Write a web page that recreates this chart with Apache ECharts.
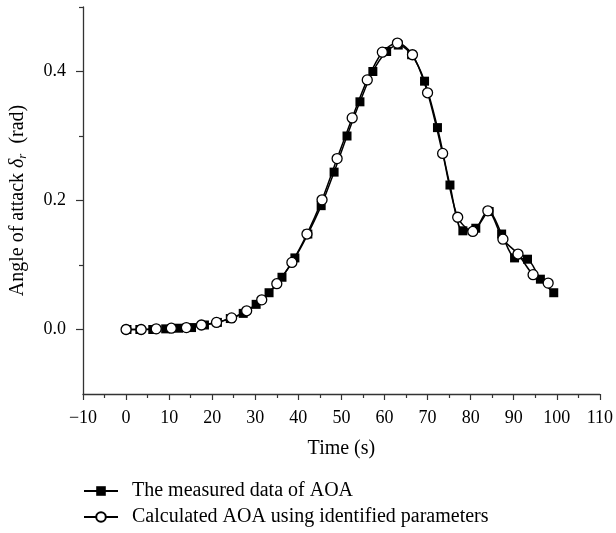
<!DOCTYPE html>
<html style="height: 100%">
<head>
    <meta charset="utf-8">
    <title>Angle of attack</title>
    <script type="text/javascript" src="https://cdn.jsdelivr.net/npm/echarts@6/dist/echarts.min.js"></script>
</head>
<body style="height: 100%; margin: 0; background: #fff">
    <div id="container" style="width: 616px; height: 533px"></div>
    <script type="text/javascript">
        // measured AOA (black squares)
        var measT = [0.2, 3.2, 6.2, 9.2, 12.2, 15.2, 18.2, 21.2, 24.2, 27.2, 30.2, 33.2, 36.2, 39.2, 42.2, 45.3, 48.3,
            51.3, 54.3, 57.3, 60.5, 63.2, 66.3, 69.3, 72.3, 75.2, 78.2, 81.2, 84.3, 87.2, 90.2, 93.2, 96.2, 99.3];
        var measV = [0.000, 0.000, 0.000, 0.001, 0.002, 0.003, 0.007, 0.011, 0.017, 0.025, 0.039, 0.057, 0.081, 0.111, 0.148, 0.192, 0.244,
            0.300, 0.353, 0.400, 0.431, 0.441, 0.426, 0.385, 0.313, 0.224, 0.153, 0.157, 0.183, 0.148, 0.111, 0.109, 0.078, 0.057];
        // calculated AOA (open circles)
        var calcT = [0, 3.5, 7, 10.5, 14, 17.5, 21, 24.5, 28, 31.5, 35, 38.5, 42, 45.5, 49, 52.5, 56, 59.5, 63, 66.5,
            70, 73.5, 77, 80.5, 84, 87.5, 91, 94.5, 98];
        var calcV = [0.000, 0.000, 0.001, 0.002, 0.003, 0.007, 0.011, 0.018, 0.029, 0.046, 0.071, 0.104, 0.148, 0.201, 0.265, 0.328,
            0.387, 0.430, 0.444, 0.426, 0.367, 0.273, 0.174, 0.152, 0.184, 0.140, 0.117, 0.085, 0.072];
        var yLabels = [0, 0.2, 0.4];
        var yMinor = [0.1, 0.3, 0.5];

        function pairs(t, v) {
            var out = [];
            for (var i = 0; i < t.length; i++) out.push([t[i], v[i]]);
            return out;
        }

        var font = 'Liberation Serif';
        var myChart = echarts.init(document.getElementById('container'));
        var option = {
            animation: false,
            textStyle: { fontFamily: font, color: '#000' },
            grid: { left: 81, right: 14, top: 7, bottom: 139 },
            legend: {
                orient: 'vertical',
                left: 83,
                top: 481,
                padding: 0,
                itemWidth: 34,
                itemHeight: 12,
                itemGap: 6,
                textStyle: { fontFamily: font, fontSize: 20, lineHeight: 20, color: '#000', padding: [0, 0, 0, 9] },
                data: ['The measured data of AOA', 'Calculated AOA using identified parameters']
            },
            xAxis: {
                type: 'value',
                min: -10,
                max: 110,
                interval: 10,
                name: 'Time (s)',
                nameLocation: 'middle',
                nameGap: 45,
                nameTextStyle: { fontFamily: font, fontSize: 20, color: '#000' },
                axisLine: { onZero: false, lineStyle: { color: '#333', width: 1.3 } },
                axisTick: { length: 6, lineStyle: { color: '#333', width: 1.2 } },
                minorTick: { show: true, splitNumber: 2, length: 4, lineStyle: { color: '#333', width: 1.2 } },
                splitLine: { show: false },
                axisLabel: {
                    margin: 15,
                    fontFamily: font,
                    fontSize: 18,
                    color: '#000',
                    formatter: function (v) { return v < 0 ? '\u2212' + (-v) : String(v); }
                }
            },
            yAxis: [{
                type: 'value',
                min: -0.1,
                max: 0.5,
                interval: 0.1,
                name: '{n|Angle of attack }{i|δ}{s|r}{n|  (rad)}',
                nameLocation: 'middle',
                nameGap: 54,
                nameTextStyle: {
                    rich: {
                        n: { fontFamily: font, fontSize: 20, color: '#000' },
                        i: { fontFamily: font, fontSize: 20, fontStyle: 'italic', color: '#000' },
                        s: { fontFamily: font, fontSize: 13, fontStyle: 'italic', color: '#000', padding: [9, 0, 0, 0] }
                    }
                },
                axisLine: { onZero: false, lineStyle: { color: '#333', width: 1.3 } },
                axisTick: { length: 7, customValues: yLabels, lineStyle: { color: '#333', width: 1.2 } },
                splitLine: { show: false },
                axisLabel: {
                    margin: 17,
                    customValues: yLabels,
                    fontFamily: font,
                    fontSize: 18,
                    color: '#000',
                    formatter: function (v) { return v.toFixed(1); }
                }
            }, {
                type: 'value',
                position: 'left',
                min: -0.1,
                max: 0.5,
                interval: 0.1,
                axisLine: { show: false, onZero: false },
                axisTick: { show: true, length: 4, customValues: yMinor, lineStyle: { color: '#333', width: 1.2 } },
                axisLabel: { show: false },
                splitLine: { show: false }
            }],
            series: [{
                name: 'The measured data of AOA',
                type: 'line',
                smooth: 0.3,
                symbol: 'rect',
                symbolSize: 9,
                showAllSymbol: true,
                lineStyle: { color: '#000', width: 1.5 },
                itemStyle: { color: '#000', borderColor: '#000', borderWidth: 0 },
                data: pairs(measT, measV),
                z: 2
            }, {
                name: 'Calculated AOA using identified parameters',
                type: 'line',
                smooth: 0.3,
                symbol: 'circle',
                symbolSize: 10,
                showAllSymbol: true,
                lineStyle: { color: '#000', width: 1.5 },
                itemStyle: { color: '#fff', borderColor: '#000', borderWidth: 1.3 },
                data: pairs(calcT, calcV),
                z: 3
            }]
        };
        myChart.setOption(option);
    </script>
</body>
</html>
